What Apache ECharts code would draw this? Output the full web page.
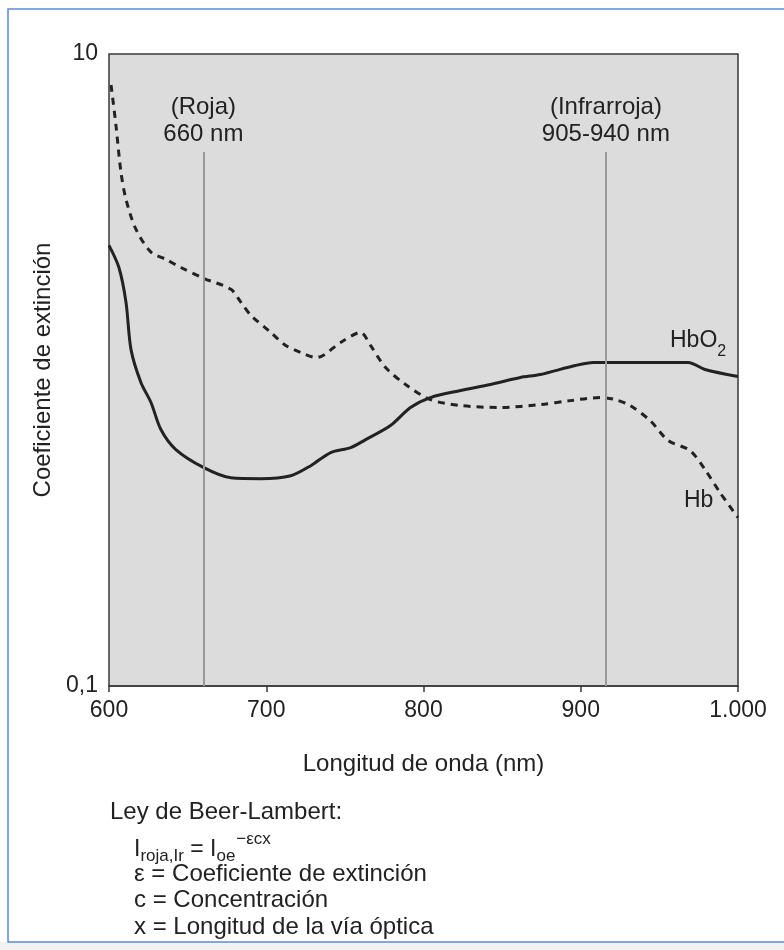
<!DOCTYPE html>
<html><head><meta charset="utf-8">
<script src="https://cdn.jsdelivr.net/npm/echarts@6/dist/echarts.min.js"></script>
<style>html,body{margin:0;padding:0;background:#fff}#c{width:784px;height:950px}</style>
</head><body><div id="c"></div>
<script>
// Wavelength (nm) and extinction coefficient (log scale)
const hbo2Wl = [600, 606.3, 610.8, 614, 620.3, 626.7, 633, 642.5, 660.3, 677.5, 696.5, 715.6, 728.3, 741, 753.7, 763.2, 779, 791.7, 804.4, 823.5, 842.5, 861.6, 874.3, 896.5, 908, 915.6, 968.3, 979, 1000];
const hbo2Val = [2.48, 2.11, 1.64, 1.16, 0.913, 0.789, 0.648, 0.560, 0.491, 0.456, 0.453, 0.463, 0.498, 0.548, 0.568, 0.602, 0.667, 0.761, 0.818, 0.861, 0.900, 0.947, 0.968, 1.033, 1.056, 1.056, 1.056, 1.004, 0.954];
const hbWl = [601.3, 604.4, 607.6, 610.8, 617.1, 626.7, 636.2, 645.7, 660.3, 677.5, 683.8, 690.2, 702.9, 712.4, 721.9, 732, 747.3, 760, 766.3, 775.9, 788.6, 804.4, 823.5, 848.9, 874.3, 893.3, 912.4, 921.9, 931.4, 944.1, 955.6, 969.5, 979, 988.6, 1000];
const hbVal = [7.98, 5.96, 4.23, 3.47, 2.79, 2.36, 2.24, 2.11, 1.95, 1.80, 1.64, 1.49, 1.315, 1.196, 1.136, 1.095, 1.222, 1.315, 1.196, 1.018, 0.900, 0.806, 0.772, 0.761, 0.777, 0.800, 0.818, 0.806, 0.772, 0.692, 0.598, 0.556, 0.484, 0.409, 0.341];
const markerWl = [660, 916];
const markerLabels = ['(Roja)\n660 nm', '(Infrarroja)\n905-940 nm'];
const markerTop = 4.9;
const xTicks = [600, 700, 800, 900, 1000];
const xTickLabels = ['600', '700', '800', '900', '1.000'];
const yTickValues = [0.1, 10];
const yTickLabels = ['0,1', '10'];
const legendLines = ['ε = Coeficiente de extinción', 'c = Concentración', 'x = Longitud de la vía óptica'];

const FONT = '"Liberation Sans", Arial, sans-serif';
const TXT = '#222';

// measure text widths for the formula pieces
const mctx = document.createElement('canvas').getContext('2d');
function tw(t, size) { mctx.font = size + 'px "Liberation Sans", Arial, sans-serif'; return mctx.measureText(t).width; }

const formulaParts = [
  {t: 'I', s: 23, dy: 0, dx: 0},
  {t: 'roja,Ir', s: 17, dy: 6, dx: 0},
  {t: ' = I', s: 23, dy: 0, dx: 0},
  {t: 'oe', s: 17, dy: 6, dx: 0},
  {t: '−εcx', s: 17, dy: -11, dx: 1}
];
const formulaGraphics = [];
let fx = 134;
formulaParts.forEach(p => {
  fx += p.dx;
  formulaGraphics.push({type: 'text', x: fx, y: 850 + p.dy, style: {text: p.t, fontFamily: FONT, fontSize: p.s, fill: TXT, verticalAlign: 'middle'}});
  fx += tw(p.t, p.s);
});

const chart = echarts.init(document.getElementById('c'), null, {renderer: 'canvas'});
chart.setOption({
  animation: false,
  backgroundColor: '#fff',
  textStyle: {fontFamily: FONT},
  grid: {left: 109, right: 46, top: 54, bottom: 264, show: true, backgroundColor: '#dcdcdc', borderColor: '#3a3a3a', borderWidth: 1.5},
  xAxis: {
    type: 'value', min: 600, max: 1000, interval: 100,
    name: 'Longitud de onda (nm)', nameLocation: 'middle', nameGap: 66,
    nameTextStyle: {fontFamily: FONT, fontSize: 24, color: TXT},
    axisLine: {show: true, onZero: false, lineStyle: {color: '#3a3a3a', width: 1.5}},
    axisTick: {show: true, length: 6, lineStyle: {color: '#3a3a3a', width: 1.5}},
    axisLabel: {fontFamily: FONT, fontSize: 23, color: TXT, margin: 13,
      formatter: v => { const i = xTicks.indexOf(v); return i >= 0 ? xTickLabels[i] : ''; }},
    splitLine: {show: false}
  },
  yAxis: {
    type: 'log', logBase: 10, min: 0.1, max: 10,
    name: 'Coeficiente de extinción', nameLocation: 'middle', nameGap: 49,
    nameTextStyle: {fontFamily: FONT, fontSize: 24, color: TXT},
    axisLine: {show: false}, axisTick: {show: false}, splitLine: {show: false},
    axisLabel: {fontFamily: FONT, fontSize: 23, color: TXT, margin: 11,
      formatter: v => { for (let i = 0; i < yTickValues.length; i++) { if (Math.abs(v - yTickValues[i]) < 1e-6 * yTickValues[i]) return yTickLabels[i]; } return ''; }}
  },
  series: [
    {
      name: 'HbO2', type: 'line', smooth: 0.3, symbol: 'none',
      data: hbo2Wl.map((w, i) => [w, hbo2Val[i]]),
      lineStyle: {color: '#222', width: 3},
      markLine: {
        silent: true, symbol: 'none',
        lineStyle: {color: '#9a9a9a', width: 2, type: 'solid'},
        label: {show: true, position: 'end', fontFamily: FONT, fontSize: 24, color: TXT, lineHeight: 27, distance: 4},
        data: markerWl.map((w, i) => [
          {coord: [w, 0.1], label: {formatter: markerLabels[i]}},
          {coord: [w, markerTop]}
        ])
      }
    },
    {
      name: 'Hb', type: 'line', smooth: 0.3, symbol: 'none',
      data: hbWl.map((w, i) => [w, hbVal[i]]),
      lineStyle: {color: '#222', width: 3, type: [7, 6]}
    }
  ],
  graphic: [
    {type: 'rect', silent: true, z: -10, shape: {x: 0, y: 942, width: 784, height: 8}, style: {fill: '#f2f2f2'}},
    {type: 'rect', silent: true, z: -5, shape: {x: 8, y: 9, width: 800, height: 933}, style: {fill: 'none', stroke: '#5b8ad6', lineWidth: 1.5}},
    {type: 'text', x: 670, y: 341, z: 100, style: {text: 'HbO', fontFamily: FONT, fontSize: 23, fill: TXT, verticalAlign: 'middle'}},
    {type: 'text', x: 670 + tw('HbO', 23), y: 352, z: 100, style: {text: '2', fontFamily: FONT, fontSize: 16, fill: TXT, verticalAlign: 'middle'}},
    {type: 'text', x: 684, y: 501, z: 100, style: {text: 'Hb', fontFamily: FONT, fontSize: 23, fill: TXT, verticalAlign: 'middle'}},
    {type: 'text', x: 110, y: 812, style: {text: 'Ley de Beer-Lambert:', fontFamily: FONT, fontSize: 24, fill: TXT, verticalAlign: 'middle'}},
    ...formulaGraphics,
    ...legendLines.map((t, i) => ({type: 'text', x: 134, y: 874 + i * 26.5, style: {text: t, fontFamily: FONT, fontSize: 24, fill: TXT, verticalAlign: 'middle'}}))
  ]
});
</script></body></html>
